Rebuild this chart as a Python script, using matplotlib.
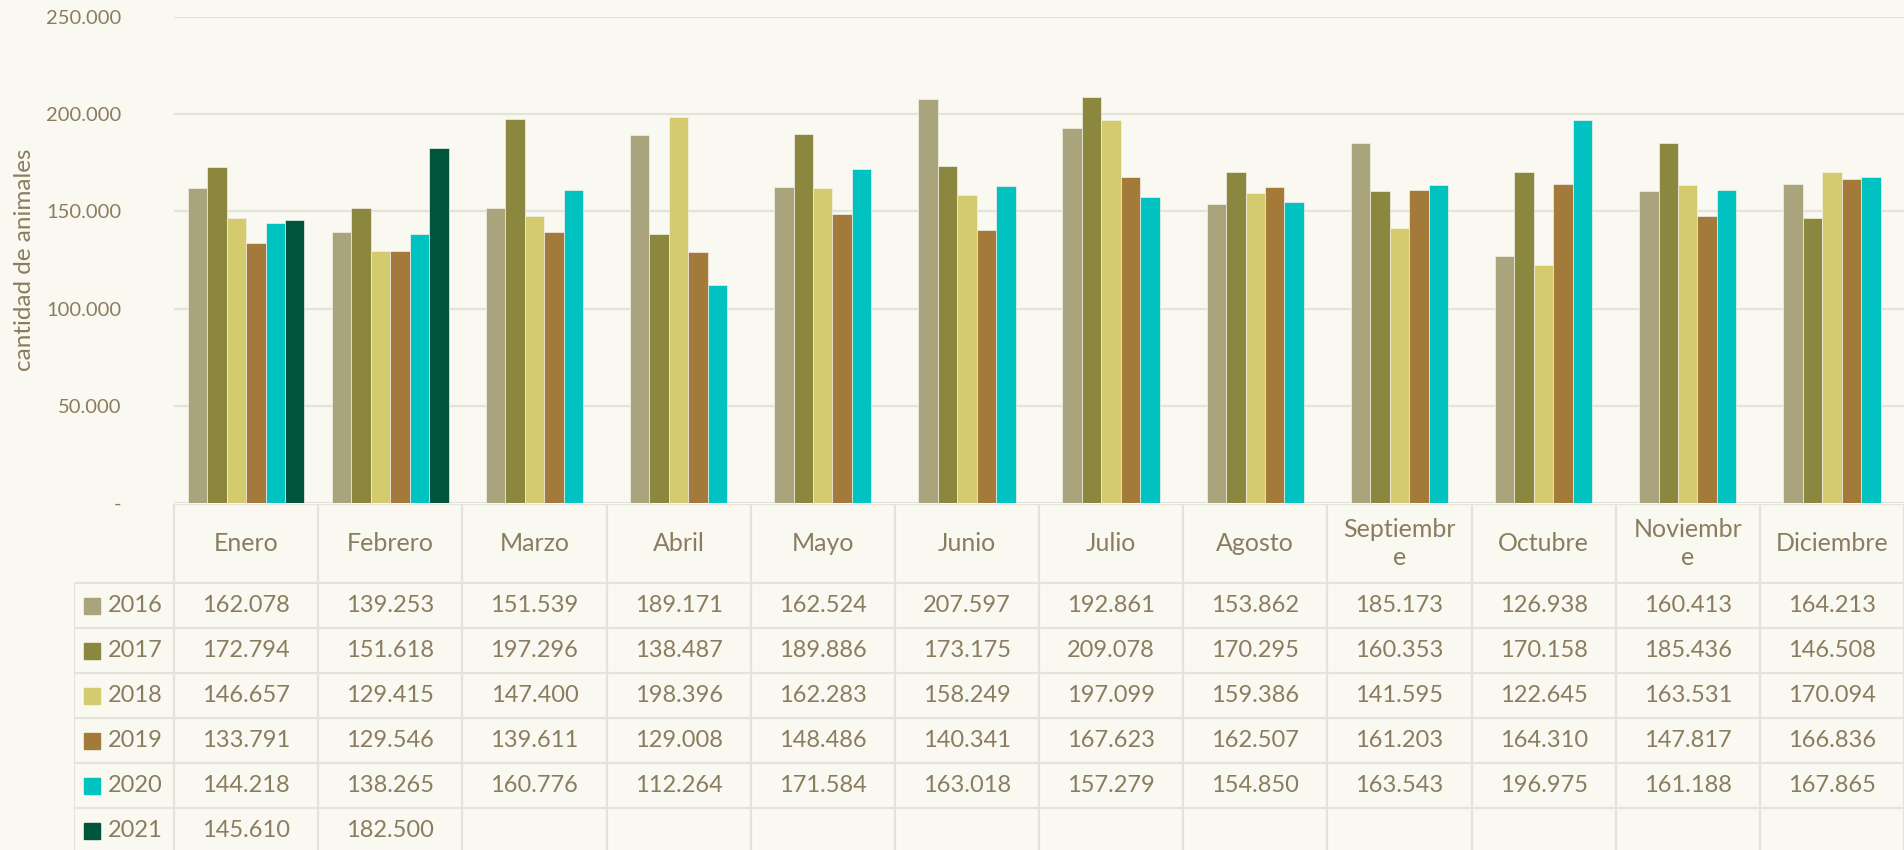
import numpy as np
import matplotlib.pyplot as plt
from matplotlib.ticker import FuncFormatter

plt.rcParams['font.family'] = ['Lato', 'DejaVu Sans']

years = ['2016', '2017', '2018', '2019', '2020', '2021']
months = ['Enero', 'Febrero', 'Marzo', 'Abril', 'Mayo', 'Junio', 'Julio',
          'Agosto', 'Septiembr\ne', 'Octubre', 'Noviembr\ne', 'Diciembre']

v2016 = [162078, 139253, 151539, 189171, 162524, 207597, 192861, 153862, 185173, 126938, 160413, 164213]
v2017 = [172794, 151618, 197296, 138487, 189886, 173175, 209078, 170295, 160353, 170158, 185436, 146508]
v2018 = [146657, 129415, 147400, 198396, 162283, 158249, 197099, 159386, 141595, 122645, 163531, 170094]
v2019 = [133791, 129546, 139611, 129008, 148486, 140341, 167623, 162507, 161203, 164310, 147817, 166836]
v2020 = [144218, 138265, 160776, 112264, 171584, 163018, 157279, 154850, 163543, 196975, 161188, 167865]
v2021 = [145610, 182500] + [None] * 10

series = [v2016, v2017, v2018, v2019, v2020, v2021]
colors = ['#A9A47B', '#8C873F', '#D3CB6D', '#A47A3B', '#00C3C1', '#00563D']

bg = '#F9F8F1'
txt = '#8A7D5F'
grid = '#E5E3D9'

W, H = 1904, 850
fig = plt.figure(figsize=(W / 100, H / 100), dpi=100, facecolor=bg)

# chart area (pixel layout of the reference)
x0, ytop, ybot = 174, 17, 503
ax = fig.add_axes([x0 / W, (H - ybot) / H, (W - x0) / W, (ybot - ytop) / H])
ax.set_facecolor(bg)
ax.set_xlim(0, 12)
ax.set_ylim(0, 250000)

bw = 0.135
for m in range(12):
    idx = [k for k in range(len(series)) if series[k][m] is not None]
    n = len(idx)
    for j, k in enumerate(idx):
        ax.bar(m + 0.5 + (j - (n - 1) / 2) * bw, series[k][m], width=bw,
               color=colors[k], edgecolor='#F3F1E6', linewidth=0.5, zorder=3)

ax.set_yticks(np.arange(0, 250001, 50000))
ax.yaxis.set_major_formatter(FuncFormatter(
    lambda v, p: '-' if v == 0 else f'{int(v):,}'.replace(',', '.')))
ax.tick_params(axis='y', length=0, pad=38, labelsize=14.5, labelcolor=txt)
ax.set_xticks([])
ax.grid(axis='y', color=grid, linewidth=1.6, zorder=0)
for s in ax.spines.values():
    s.set_visible(False)
ax.set_ylabel('cantidad de animales', fontsize=17.5, color=txt, labelpad=8)

# data table below
tx0, ttop = 74, 504
tab = fig.add_axes([tx0 / W, 0, (W - tx0) / W, (H - ttop) / H])
tab.set_facecolor(bg)
tab.patch.set_alpha(0)
lab_w = (x0 - tx0) / ((W - x0) / 12)
tab.set_xlim(-lab_w, 12)
tab.set_ylim(H - ttop, 0)
tab.axis('off')

head_h, row_h = 79, 45
lw = 1.6
# horizontal lines
tab.plot([0, 12], [0, 0], color=grid, lw=lw)
for r in range(len(years) + 1):
    y = head_h + r * row_h
    tab.plot([-lab_w, 12], [y, y], color=grid, lw=lw)
# vertical lines
for m in range(13):
    tab.plot([m, m], [0, H], color=grid, lw=lw)
tab.plot([-lab_w, -lab_w], [head_h, H], color=grid, lw=lw)

for m, name in enumerate(months):
    tab.text(m + 0.5, head_h / 2, name, ha='center', va='center',
             fontsize=18, color=txt, linespacing=1.25)

sq = 16 / ((W - x0) / 12)
for k, yr in enumerate(years):
    yc = head_h + k * row_h + row_h / 2
    tab.add_patch(plt.Rectangle((-lab_w + 10 / 144.17, yc - 8), sq, 16,
                                color=colors[k]))
    tab.text(-lab_w + 34 / 144.17, yc, yr, ha='left', va='center',
             fontsize=17, color=txt)
    for m in range(12):
        v = series[k][m]
        if v is None:
            continue
        tab.text(m + 0.5, yc, f'{v:,}'.replace(',', '.'), ha='center',
                 va='center', fontsize=17, color=txt)

fig.savefig('out.png', dpi=100, facecolor=bg)
